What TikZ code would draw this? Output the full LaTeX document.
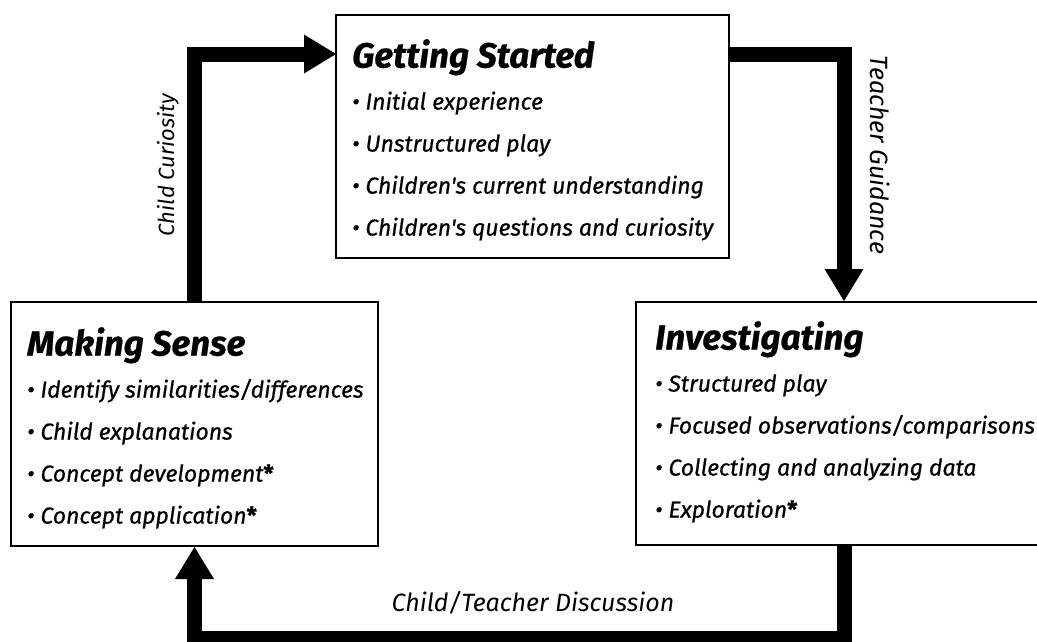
\documentclass[tikz,border=0pt]{standalone}
\usepackage{fontspec}
\setmainfont{Fira Sans}
\newfontfamily\listfont{Fira Sans}[FakeBold=0.7]
\usetikzlibrary{positioning}
\usetikzlibrary{arrows.meta}
\tikzset{flow/.style = {line width=15pt, -{Triangle[length=32pt,width=39pt,line width=0pt]}}}

\begin{document}
\begin{tikzpicture}[x=1pt,y=-1pt,
    stage/.style={rectangle,draw,line width=2pt,inner sep=0pt},
    list/.style={align=left,inner sep=0pt,font=\listfont\fontsize{23}{42}\selectfont\itshape},
    lbl/.style={inner sep=0pt,font=\fontsize{25}{28}\selectfont\itshape}]
    \useasboundingbox (0,0) rectangle (1037,641);

    % the three stages
    \node[stage,minimum width=393pt,minimum height=243pt] (gs) at (532.5,136.5) {};
    \node[stage,minimum width=367pt,minimum height=244pt] (ms) at (194.5,424) {};
    \node[stage,minimum width=416pt,minimum height=243pt] (inv) at (844,423.5) {};

    \node[list, below right=25pt and 17pt of gs.north west] (gslist) {%
        {\fontsize{35}{42}\selectfont\bfseries Getting Started}\\
        • Initial experience\\
        • Unstructured play\\
        • Children's current understanding\\
        • Children's questions and curiosity};
    \node[list, below right=26pt and 17pt of ms.north west] (mslist) {%
        {\fontsize{35}{42}\selectfont\bfseries Making Sense}\\
        • Identify similarities/differences\\
        • Child explanations\\
        • Concept development{\bfseries\upshape*}\\
        • Concept application{\bfseries\upshape*}};
    \node[list, below right=20pt and 20pt of inv.north west] (invlist) {%
        {\fontsize{35}{42}\selectfont\bfseries Investigating}\\
        • Structured play\\
        • Focused observations/comparisons\\
        • Collecting and analyzing data\\
        • Exploration{\bfseries\upshape*}};

    % the cycle
    \coordinate (gsin) at (336,54);
    \coordinate (gsout) at (729,54);
    \draw[flow] (ms.north) |- (gsin);
    \draw[flow] (gsout) -| (inv.north);
    \draw[flow] (inv.south) -- ++(0,92) -| (ms.south);

    \node[lbl, rotate=90, font=\fontsize{22}{26}\selectfont\itshape] (curio) at (168,165) {Child Curiosity};
    \node[lbl, rotate=-90] (guide) at (880,155) {Teacher Guidance};
    \node[lbl] (talk) at (533,603) {Child/Teacher Discussion};
\end{tikzpicture}
\end{document}
